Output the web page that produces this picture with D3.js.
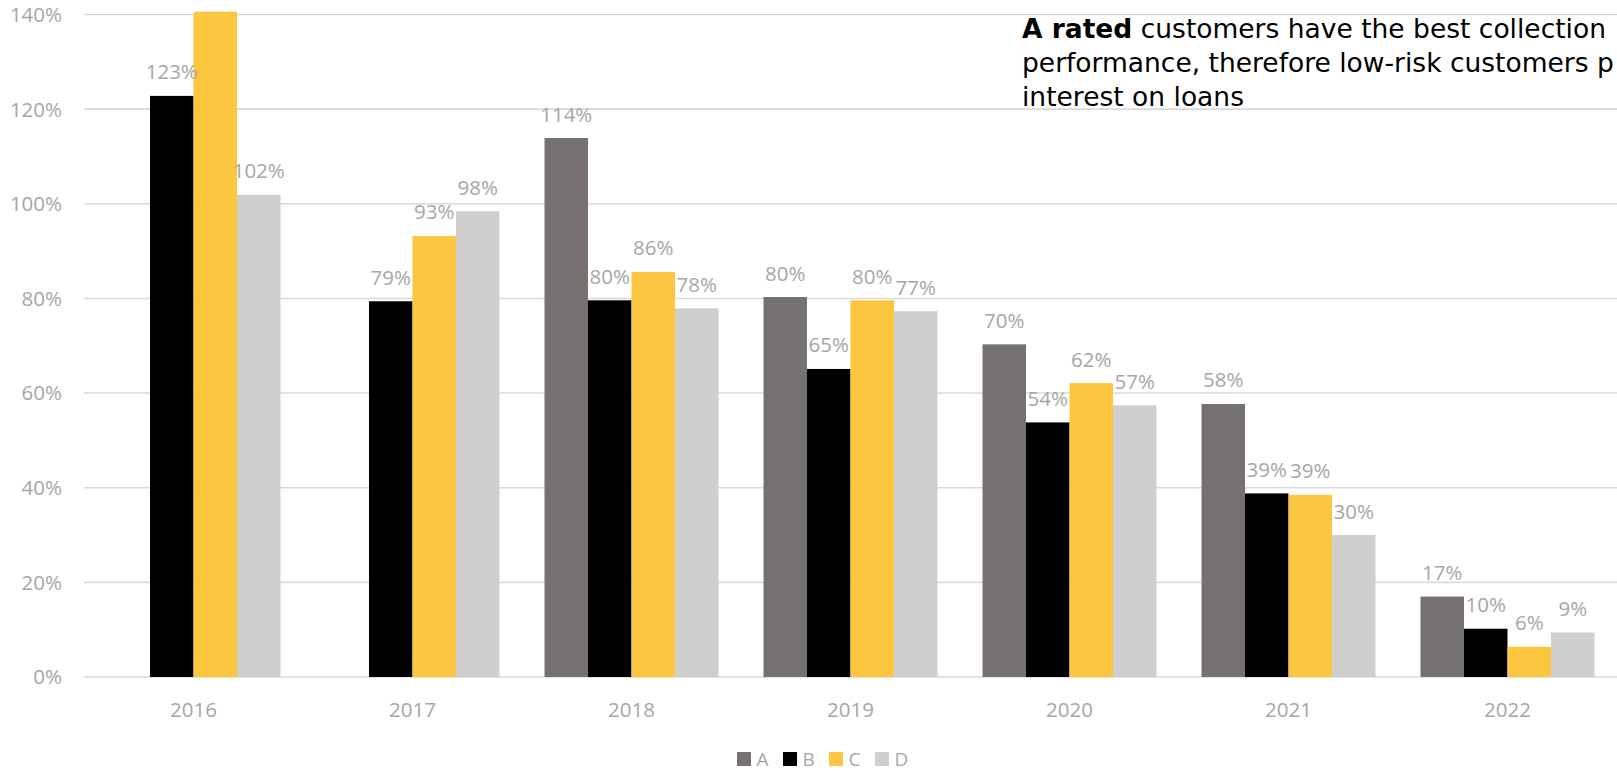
<!DOCTYPE html>
<html>
<head>
<meta charset="utf-8">
<script src="https://cdn.jsdelivr.net/npm/d3@7"></script>
<style>
  html, body { margin: 0; padding: 0; background: #fff; }
  svg { display: block; overflow: hidden; }
</style>
</head>
<body>
<svg id="chart" width="1617" height="771"></svg>
<script>
const years = ["2016", "2017", "2018", "2019", "2020", "2021", "2022"];
const seriesNames = ["A", "B", "C", "D"];
const seriesA = [null, null, 113.9, 80.3, 70.3, 57.7, 17.0];
const seriesB = [122.8, 79.4, 79.6, 65.1, 53.8, 38.8, 10.2];
const seriesC = [140.6, 93.2, 85.6, 79.6, 62.1, 38.5, 6.4];
const seriesD = [101.9, 98.4, 77.9, 77.3, 57.4, 30.0, 9.4];
const yTicks = [0, 20, 40, 60, 80, 100, 120, 140];
const colors = ["#767171", "#000000", "#FCC640", "#D0CECE"];
const annotationBold = "A rated";
const annotationLines = [
  " customers have the best collection",
  "performance, therefore low-risk customers p",
  "interest on loans"
];

(function () {
const allSeries = [seriesA, seriesB, seriesC, seriesD];
const svg = d3.select("#chart");
const plotLeft = 84, plotRight = 1617, plotTop = 14.5, plotBottom = 677;
const yMax = 140;

const x0 = d3.scaleBand().domain(years).range([plotLeft, plotRight])
  .paddingInner(0.2055).paddingOuter(0.10275);
const x1 = d3.scaleBand().domain(seriesNames).range([0, x0.bandwidth()]).padding(0);
const y = d3.scaleLinear().domain([0, yMax]).range([plotBottom, plotTop]);
const color = d3.scaleOrdinal().domain(seriesNames).range(colors);

const axisFont = "'Open Sans', sans-serif";
const grey = "#A6A6A6";

// gridlines
svg.append("g").selectAll("line").data(yTicks).join("line")
  .attr("x1", plotLeft).attr("x2", plotRight)
  .attr("y1", d => y(d)).attr("y2", d => y(d))
  .attr("stroke", "#D9D9D9").attr("stroke-width", 1.6);

// y labels
svg.append("g").selectAll("text").data(yTicks).join("text")
  .attr("x", 62).attr("y", d => y(d)).attr("dy", "0.36em")
  .attr("text-anchor", "end")
  .attr("font-family", axisFont).attr("font-size", 20.5).attr("fill", grey)
  .text(d => d + "%");

// bars
const rows = [];
years.forEach((yr, i) => {
  seriesNames.forEach((s, j) => {
    const v = allSeries[j][i];
    if (v !== null && v !== undefined) rows.push({year: yr, series: s, value: v});
  });
});

svg.append("g").selectAll("rect").data(rows).join("rect")
  .attr("x", d => x0(d.year) + x1(d.series))
  .attr("width", x1.bandwidth())
  .attr("y", d => y(d.value))
  .attr("height", d => y(0) - y(d.value))
  .attr("fill", d => color(d.series));

// value labels (hidden when beyond the axis max)
svg.append("g").selectAll("text").data(rows.filter(d => d.value <= yMax)).join("text")
  .attr("x", d => x0(d.year) + x1(d.series) + x1.bandwidth() / 2)
  .attr("y", d => y(d.value) - 16.5)
  .attr("text-anchor", "middle")
  .attr("font-family", axisFont).attr("font-size", 20.5).attr("fill", grey)
  .text(d => Math.round(d.value) + "%");

// x labels
svg.append("g").selectAll("text").data(years).join("text")
  .attr("x", d => x0(d) + x0.bandwidth() / 2)
  .attr("y", 717)
  .attr("text-anchor", "middle")
  .attr("font-family", axisFont).attr("font-size", 20.5).attr("fill", grey)
  .text(d => d);

// legend
const legend = svg.append("g").attr("transform", "translate(737,752)");
const li = legend.selectAll("g").data(seriesNames).join("g")
  .attr("transform", (d, i) => `translate(${i * 46},0)`);
li.append("rect").attr("width", 14).attr("height", 14).attr("fill", d => color(d));
li.append("text").attr("x", 19.5).attr("y", 14)
  .attr("font-family", axisFont).attr("font-size", 19).attr("fill", grey)
  .text(d => d);

// annotation
const ann = svg.append("text")
  .attr("font-family", "'DejaVu Sans', sans-serif").attr("font-size", 26.5).attr("fill", "#000");
const t1 = ann.append("tspan").attr("x", 1022).attr("y", 38);
t1.append("tspan").attr("font-weight", 700).text(annotationBold);
t1.append("tspan").text(annotationLines[0]);
ann.append("tspan").attr("x", 1022).attr("y", 72).text(annotationLines[1]);
ann.append("tspan").attr("x", 1022).attr("y", 106).text(annotationLines[2]);
})();
</script>
</body>
</html>
